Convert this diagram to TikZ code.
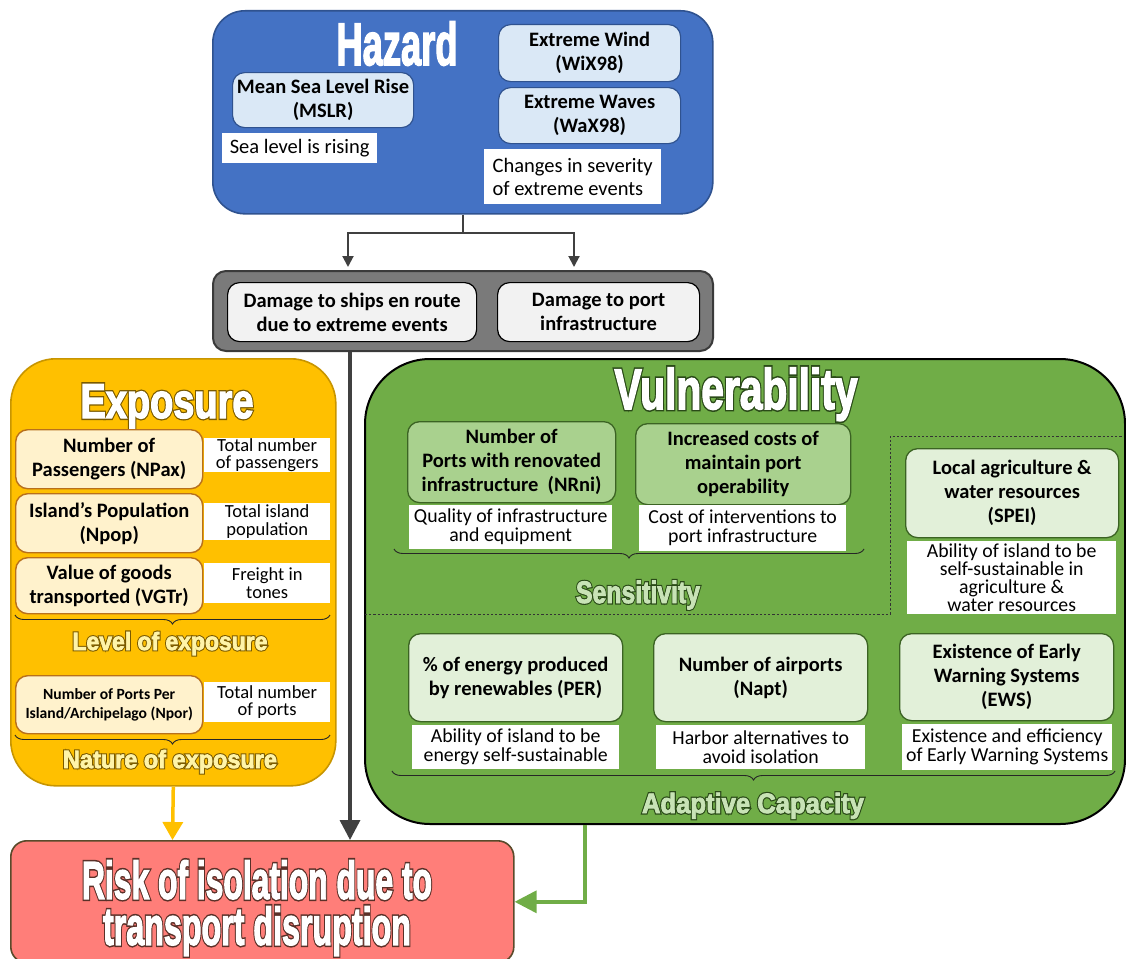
\documentclass[tikz,border=0pt]{standalone}
\usepackage{fontspec}
\setmainfont{Carlito}
\newfontfamily\ttlfont{Liberation Sans}
\usetikzlibrary{arrows.meta,decorations.pathreplacing,calc}

\definecolor{hazfill}{HTML}{4472C4}
\definecolor{hazline}{HTML}{2F528F}
\definecolor{hazin}{HTML}{DAE8F6}
\definecolor{greyfill}{HTML}{7A7A7A}
\definecolor{greyline}{HTML}{3A3A3A}
\definecolor{dmgfill}{HTML}{F2F2F2}
\definecolor{expfill}{HTML}{FFC000}
\definecolor{expline}{HTML}{C89500}
\definecolor{expin}{HTML}{FFF2CC}
\definecolor{expinline}{HTML}{B8701C}
\definecolor{vulfill}{HTML}{70AD47}
\definecolor{vulmid}{HTML}{A9D18E}
\definecolor{vullight}{HTML}{E2F0D9}
\definecolor{vulline}{HTML}{3B6323}
\definecolor{riskfill}{HTML}{FF7E79}
\definecolor{riskline}{HTML}{5A4A2A}
\definecolor{darrow}{HTML}{404040}

% rgb triples for the pdf:bcolor special
\def\cWhite{1 1 1}
\def\cExpTtl{0.478 0.353 0}
\def\cExpSub{1 0.957 0.659}
\def\cVulTtl{0.165 0.29 0.094}
\def\cVulSub{0.784 0.89 0.714}
\def\cRiskTtl{0.353 0.188 0.157}

\newlength\ttlw
% #1 target width, #2 outline rgb, #3 fill rgb, #4 text, #5 outline FakeBold
\newcommand\ttltext[5]{\settowidth\ttlw{#4}\pgfmathsetmacro\ttlf{#1/\ttlw}%
  \scalebox{\ttlf}[1]{\rlap{\addfontfeatures{FakeBold=#5}\special{pdf:bcolor [#2]}#4\special{pdf:ecolor}}%
  \special{pdf:bcolor [#3]}#4\special{pdf:ecolor}}}
% plain (no outline): #1 width, #2 text
\newcommand\ttlplain[2]{\settowidth\ttlw{#2}\pgfmathsetmacro\ttlf{#1/\ttlw}\scalebox{\ttlf}[1]{#2}}

\tikzset{
  wh/.style 2 args={minimum width=#1pt, minimum height=#2pt},
  box/.style={draw, line width=1.2pt, rounded corners=12pt, anchor=north west, align=center, inner sep=0pt,
    font=\bfseries\fontsize{20.5}{24}\selectfont},
  note/.style={fill=white, anchor=north west, align=center, inner sep=0pt,
    font=\fontsize{20.5}{23}\selectfont},
  container/.style={draw, anchor=north west, inner sep=0pt},
  ttl/.style={anchor=base, inner sep=0pt},
  brc/.style={decorate, decoration={brace, mirror, amplitude=9pt}, line width=0.9pt, draw=black!85},
  dashline/.style={draw=black!80, line width=0.8pt, dash pattern=on 2.2pt off 2pt},
}

\begin{document}
\begin{tikzpicture}[x=1pt,y=-1pt]
\useasboundingbox (0,0) rectangle (1126,958);

% ---------------- Hazard ----------------
\node[container, fill=hazfill, draw=hazline, line width=1.6pt, rounded corners=32pt, wh={500}{203}] (haz) at (212,10) {};
\node[ttl, text=white, font=\ttlfont\bfseries\fontsize{60}{60}\selectfont\addfontfeatures{FakeBold=3}] (hazt) at (397,65) {\ttlplain{121}{Hazard}};
\node[box, fill=hazin, draw=hazline, wh={181}{55}] (mslr) at (232,72) {Mean Sea Level Rise\\(MSLR)};
\node[note, wh={155}{30}] (mslrn) at (222,133) {Sea level is rising};
\node[box, fill=hazin, draw=hazline, wh={182}{57}] (wix) at (498,24) {Extreme Wind\\(WiX98)};
\node[box, fill=hazin, draw=hazline, wh={182}{56}] (wax) at (498,87) {Extreme Waves\\(WaX98)};
\node[note, align=left, wh={177}{55}] (chg) at (484,149) {Changes in severity\\of extreme events};

% ---------------- Damage ----------------
\node[container, fill=greyfill, draw=greyline, line width=2pt, rounded corners=13pt, wh={500}{80}] (grey) at (212,270) {};
\node[box, fill=dmgfill, draw=black, wh={249}{59}] (dmg1) at (227,282) {Damage to ships en route\\due to extreme events};
\node[box, fill=dmgfill, draw=black, wh={202}{59}] (dmg2) at (497,282) {Damage to port\\infrastructure};

\draw[darrow, line width=2pt] (haz.south) -- ++(0,18) coordinate (hj);
\draw[darrow, line width=2pt, -{Triangle[length=11pt,width=11pt]}] (hj) -| ($(grey.north west)+(136,-3)$);
\draw[darrow, line width=2pt, -{Triangle[length=11pt,width=11pt]}] (hj) -| ($(grey.north west)+(362,-3)$);

% ---------------- Exposure ----------------
\node[container, fill=expfill, draw=expline, line width=1.6pt, rounded corners=45pt, wh={325}{427}] (expo) at (10,358) {};
\node[ttl, font=\ttlfont\bfseries\fontsize{49}{49}\selectfont\addfontfeatures{FakeBold=3}] (expt) at (167,418) {\ttltext{173}{\cExpTtl}{\cWhite}{Exposure}{8.3}};

\tikzset{ebox/.style={box, fill=expin, draw=expinline, line width=1.4pt, wh={187}{#1}},
         enote/.style={note, font=\fontsize{18.5}{17.5}\selectfont, wh={126}{#1}}}
\node[ebox=59] (npax) at (15,429) {Number of\\Passengers (NPax)};
\node[enote=31] (npaxn) at (204,438) {Total number\\of passengers};
\node[ebox=59] (npop) at (15,493) {Island’s Population\\(Npop)};
\node[enote=37] (npopn) at (204,503) {Total island\\population};
\node[ebox=56] (vgtr) at (15,557) {Value of goods\\transported (VGTr)};
\node[enote=40] (vgtrn) at (204,563) {Freight in\\tones};
\coordinate (b1l) at (15,615);
\coordinate (b1r) at (330,615);
\draw[brc] (b1l) -- (b1r);
\node[ttl, font=\ttlfont\bfseries\fontsize{25}{25}\selectfont\addfontfeatures{FakeBold=3}] (lvl) at (170,650) {\ttltext{195}{\cExpTtl}{\cExpSub}{Level of exposure}{11.5}};
\node[ebox=58, font=\bfseries\fontsize{15.6}{19}\selectfont] (npor) at (15,675) {Number of Ports Per\\Island/Archipelago (Npor)};
\node[enote=40] (nporn) at (204,682) {Total number\\of ports};
\coordinate (b2l) at (15,735);
\coordinate (b2r) at (330,735);
\draw[brc] (b2l) -- (b2r);
\node[ttl, font=\ttlfont\bfseries\fontsize{25}{25}\selectfont\addfontfeatures{FakeBold=3}] (nat) at (170,768) {\ttltext{214}{\cExpTtl}{\cExpSub}{Nature of exposure}{11.5}};

% ---------------- Vulnerability ----------------
\node[container, fill=vulfill, draw=black, line width=2pt, rounded corners=65pt, wh={760}{465}] (vul) at (364,358) {};
\node[ttl, font=\ttlfont\bfseries\fontsize{57}{57}\selectfont\addfontfeatures{FakeBold=3}] (vult) at (736,409) {\ttltext{243}{\cVulTtl}{\cWhite}{Vulnerability}{8.6}};

\tikzset{vbox/.style={box, draw=vulline, fill=#1, line width=1.3pt},
         vnote/.style={note, font=\fontsize{19.8}{19}\selectfont}}
\node[vbox=vulmid, wh={208}{81}] (nrni) at (407,421) {Number of\\Ports with renovated\\infrastructure\ \ (NRni)};
\node[vnote, wh={203}{44}] (nrnin) at (409,505) {Quality of infrastructure\\and equipment};
\node[vbox=vulmid, wh={215}{81}] (cost) at (635,423) {Increased costs of\\maintain port\\operability};
\node[vnote, wh={207}{46}] (costn) at (639,505) {Cost of interventions to\\port infrastructure};
\coordinate (b3l) at (394,549);
\coordinate (b3r) at (864,549);
\draw[brc] (b3l) -- (b3r);
\node[ttl, font=\ttlfont\bfseries\fontsize{31}{31}\selectfont\addfontfeatures{FakeBold=3}] (sens) at (638,603) {\ttltext{124}{\cVulTtl}{\cVulSub}{Sensitivity}{10.5}};

\coordinate (d1) at (365,614);
\coordinate (d2) at (890,614);
\coordinate (d3) at (890,436);
\coordinate (d4) at (1123,436);
\draw[dashline] (d1) -- (d2) -- (d3) -- (d4);

\node[vbox=vullight, wh={213}{89}] (spei) at (905,448) {Local agriculture \&\\water resources\\(SPEI)};
\node[vnote, font=\fontsize{19.8}{18.3}\selectfont, wh={209}{73}] (spein) at (907,541) {Ability of island to be\\self-sustainable in\\agriculture \&\\water resources};

\node[vbox=vullight, wh={214}{88}] (per) at (408,633) {\% of energy produced\\by renewables (PER)};
\node[vnote, wh={207}{44}] (pern) at (412,725) {Ability of island to be\\energy self-sustainable};
\node[vbox=vullight, wh={214}{88}] (napt) at (653,633) {Number of airports\\(Napt)};
\node[vnote, wh={209}{44}] (naptn) at (656,725) {Harbor alternatives to\\avoid isolation};
\node[vbox=vullight, wh={214}{87}] (ews) at (899,633) {Existence of Early\\Warning Systems\\(EWS)};
\node[vnote, wh={210}{46}] (ewsn) at (902,724) {Existence and efficiency\\of Early Warning Systems};
\coordinate (b4l) at (392,771);
\coordinate (b4r) at (1115,771);
\draw[brc] (b4l) -- (b4r);
\node[ttl, font=\ttlfont\bfseries\fontsize{28}{28}\selectfont\addfontfeatures{FakeBold=3}] (adap) at (753,813) {\ttltext{222}{\cVulTtl}{\cVulSub}{Adaptive Capacity}{11.5}};

% ---------------- Risk ----------------
\node[container, fill=riskfill, draw=riskline, line width=1.6pt, rounded corners=16pt, wh={503}{122}] (risk) at (10,840) {};
\node[inner sep=0pt, align=center, font=\ttlfont\bfseries\fontsize{53}{46}\selectfont\addfontfeatures{FakeBold=3}] (riskt) at (257,908)
  {\ttltext{350}{\cRiskTtl}{\cWhite}{Risk of isolation due to}{8.8}\\\ttltext{308}{\cRiskTtl}{\cWhite}{transport disruption}{8.8}};

% ---------------- Arrows to risk ----------------
\draw[darrow, line width=3.5pt, -{Triangle[length=20pt,width=20pt]}] ($(grey.south west)+(138,0)$) -- ($(risk.north west)+(340,0)$);
\draw[expfill, line width=3.5pt, -{Triangle[length=18pt,width=20pt]}] (expo.south) -- ($(risk.north west)+(162.5,0)$);
\draw[vulfill, line width=3.5pt, -{Triangle[length=22pt,width=22pt]}] ($(vul.south west)+(221,0)$) |- (risk.east);

\end{tikzpicture}
\end{document}
